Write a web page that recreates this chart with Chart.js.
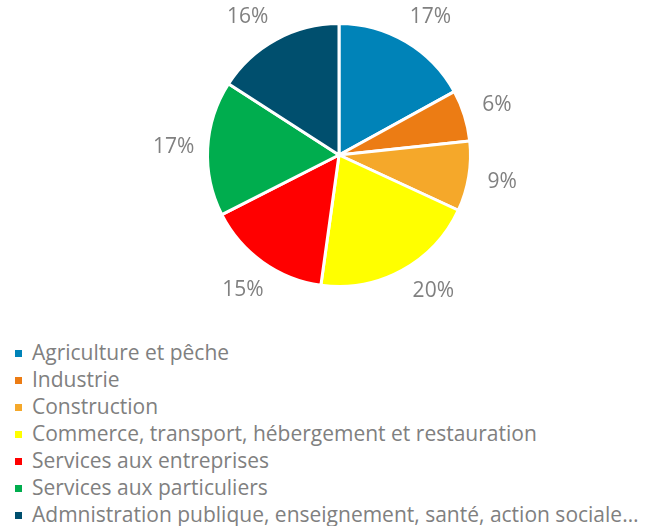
<!DOCTYPE html>
<html>
<head>
<meta charset="utf-8">
<script src="https://cdn.jsdelivr.net/npm/chart.js@4/dist/chart.umd.min.js"></script>
<style>
  body { margin: 0; background: #fff; }
  #wrap { position: relative; width: 654px; height: 526px; }
  #pie-box { position: absolute; left: 0; top: 0; width: 654px; height: 310px; }
  #legend { position: absolute; left: 15px; top: 339px; font-family: "Open Sans", sans-serif; font-size: 21px; color: #808080; }
  .item { height: 27px; line-height: 27px; white-space: nowrap; }
  .box { display: inline-block; width: 7px; height: 7px; margin-right: 10px; vertical-align: middle; position: relative; top: -1px; }
</style>
</head>
<body>
<div id="wrap">
  <div id="pie-box"><canvas id="pie-chart"></canvas></div>
  <div id="legend"></div>
</div>
<script>
// data
var labels = [
  'Agriculture et pêche',
  'Industrie',
  'Construction',
  'Commerce, transport, hébergement et restauration',
  'Services aux entreprises',
  'Services aux particuliers',
  'Admnistration publique, enseignement, santé, action sociale…'
];
var values = [17.0, 6.3, 8.6, 20.3, 15.3, 16.6, 15.9];
var colors = ['#0083B8', '#EC7C14', '#F5A82A', '#FFFF00', '#FF0000', '#00AD4E', '#004F6E'];

// percent labels outside each slice, kept inside the canvas like excel does
var outsideLabels = {
  id: 'outsideLabels',
  afterDatasetsDraw: function(chart) {
    var ctx = chart.ctx;
    var meta = chart.getDatasetMeta(0);
    var total = values.reduce(function(a, b) { return a + b; }, 0);
    var minY = 17, maxY = 291;
    ctx.save();
    ctx.font = '21px "Open Sans", sans-serif';
    ctx.fillStyle = '#808080';
    ctx.textAlign = 'center';
    ctx.textBaseline = 'middle';
    meta.data.forEach(function(arc, i) {
      var p = arc.getProps(['x', 'y', 'startAngle', 'endAngle', 'outerRadius'], true);
      var mid = (p.startAngle + p.endAngle) / 2;
      var r = p.outerRadius + 34;
      var dx = Math.cos(mid) * r;
      var dy = Math.sin(mid) * r;
      var y = p.y + dy;
      if (y < minY || y > maxY) {
        y = Math.min(Math.max(y, minY), maxY);
        dy = y - p.y;
        dx = Math.sign(dx) * Math.sqrt(r * r - dy * dy);
      }
      ctx.fillText(Math.round(values[i] / total * 100) + '%', p.x + dx, y);
    });
    ctx.restore();
  }
};

var ctx = document.getElementById('pie-chart');
var chart = new Chart(ctx, {
  type: 'pie',
  data: {
    labels: labels,
    datasets: [{
      data: values,
      backgroundColor: colors,
      borderColor: '#ffffff',
      borderWidth: 3
    }]
  },
  options: {
    responsive: true,
    maintainAspectRatio: false,
    animation: false,
    layout: { padding: { top: 22, bottom: 22, left: 24, right: 0 } },
    plugins: {
      legend: { display: false },
      tooltip: { enabled: false }
    }
  },
  plugins: [outsideLabels]
});

// legend
var legend = document.getElementById('legend');
labels.forEach(function(name, i) {
  var row = document.createElement('div');
  row.className = 'item';
  var box = document.createElement('span');
  box.className = 'box';
  box.style.background = colors[i];
  row.appendChild(box);
  row.appendChild(document.createTextNode(name));
  legend.appendChild(row);
});
</script>
</body>
</html>
